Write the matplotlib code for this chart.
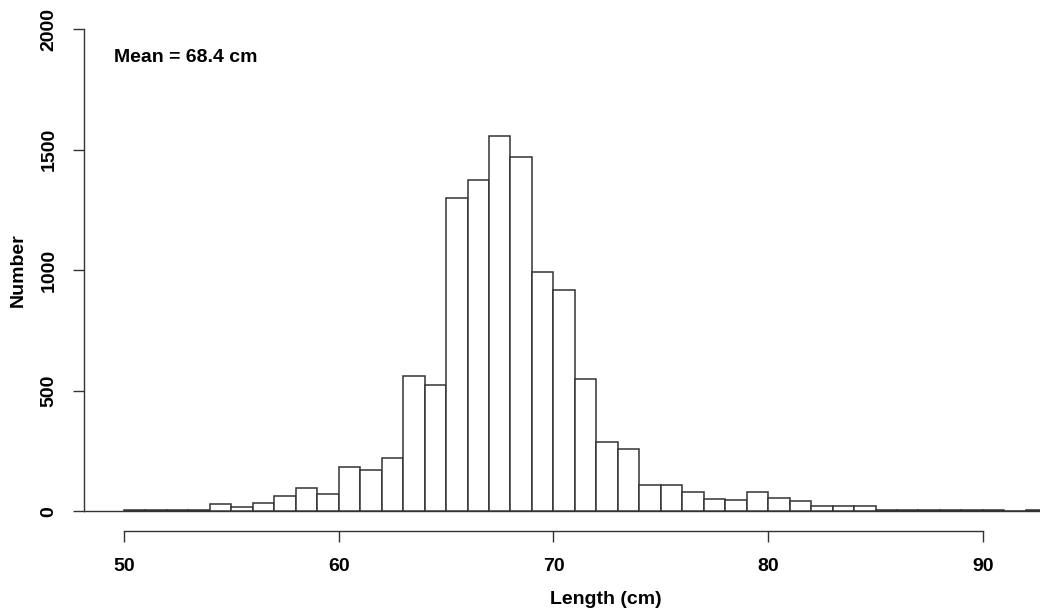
import numpy as np
import matplotlib
matplotlib.use("Agg")
import matplotlib.pyplot as plt
from matplotlib import rcParams

rcParams.update({
    "font.family": "sans-serif",
    "font.sans-serif": ["Liberation Sans", "DejaVu Sans"],
    "font.weight": "bold",
    "font.size": 14,
})

# 1 cm length classes, left edges
bin_left = np.arange(50, 93)
counts = [6, 5, 6, 6, 29, 17, 33, 62, 97, 74,
          183, 171, 222, 560, 525, 1302, 1375, 1558, 1472, 993,
          920, 549, 286, 257, 108, 108, 81, 53, 46, 81,
          57, 42, 22, 22, 22, 6, 5, 6, 5, 5,
          6, 0, 6]
x_ticks = [50, 60, 70, 80, 90]
y_ticks = [0, 500, 1000, 1500, 2000]
mean_text = "Mean = 68.4 cm"

LINE = "#333333"

fig = plt.figure(figsize=(10.4, 6.14), dpi=100)
ax = fig.add_axes([84 / 1040, 1 - 530.7 / 614, 956 / 1040, (530.7 - 10.0) / 614])

ax.bar(bin_left, counts, width=1.0, align="edge", facecolor="white",
       edgecolor=LINE, linewidth=1.1, zorder=2)
ax.axhline(0, color=LINE, linewidth=1.0, zorder=1)

ax.set_xlim(48.137, 92.66)
ax.set_ylim(-80, 2080)

for s in ("top", "right"):
    ax.spines[s].set_visible(False)
ax.spines["left"].set_bounds(0, 2000)
ax.spines["bottom"].set_bounds(50, 90)
for s in ("left", "bottom"):
    ax.spines[s].set_color(LINE)
    ax.spines[s].set_linewidth(1.0)

ax.set_xticks(x_ticks)
ax.set_yticks(y_ticks)
ax.tick_params(axis="both", direction="out", length=8, width=1.0,
               color=LINE, labelsize=14)
ax.tick_params(axis="x", pad=12)
ax.tick_params(axis="y", pad=11)
for lab in ax.get_yticklabels():
    lab.set_rotation(90)
    lab.set_va("center")
    lab.set_ha("right")
    lab.set_fontweight("bold")
for lab in ax.get_xticklabels():
    lab.set_fontweight("bold")

ax.text(49.52, 1866, mean_text, ha="left", va="baseline",
        fontsize=14, fontweight="bold")

fig.text(606 / 1040, 1 - 600 / 614, "Length (cm)", ha="center", va="center",
         fontsize=14, fontweight="bold")
fig.text(18 / 1040, 1 - 270 / 614, "Number", ha="center", va="center",
         rotation=90, fontsize=14, fontweight="bold")

fig.savefig("out.png", dpi=100, facecolor="white")
